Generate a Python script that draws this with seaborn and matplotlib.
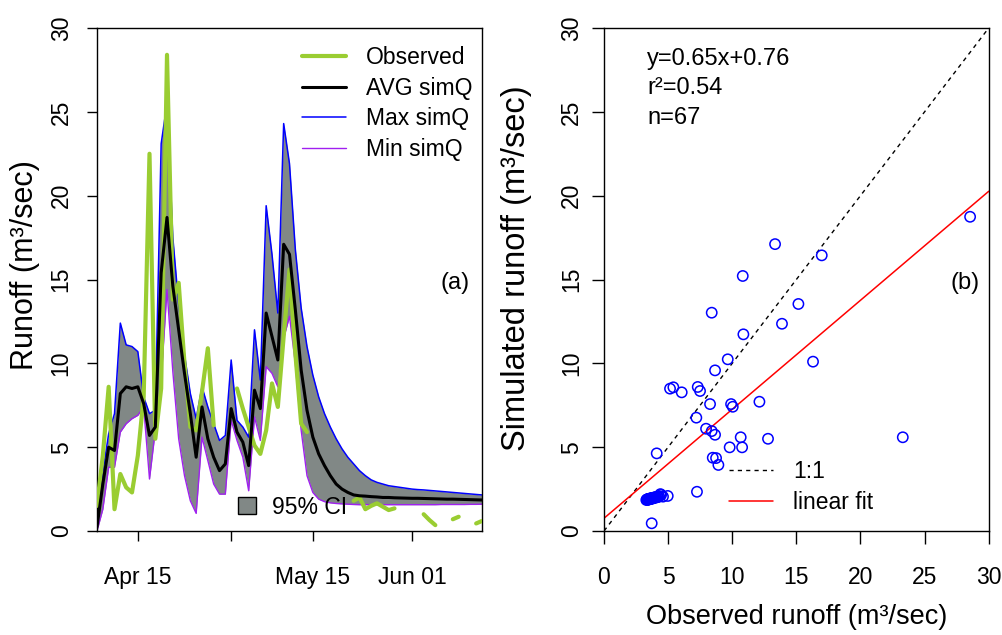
import numpy as np
import pandas as pd
import matplotlib
matplotlib.use("Agg")
import matplotlib.pyplot as plt
from matplotlib.lines import Line2D
from matplotlib.patches import Patch
import seaborn as sns

# ---------------- data ----------------
start_date = "2011-04-08"
n_days = 67

observed = [1.5, 4.5, 8.6, 1.3, 3.4, 2.6, 2.3, 4.5, 8.0, 22.5,
            5.5, 8.5, 28.4, 13.8, 14.8, 10.0, 6.2, 6.0, 8.3, 10.9,
            6.3, np.nan, np.nan, np.nan, 8.5, 7.3, 6.2, 5.1, 4.6, 6.0,
            8.8, 7.4, 11.6, 15.6, 10.6, 6.4, 5.9, np.nan, np.nan, np.nan,
            np.nan, np.nan, np.nan, np.nan, 1.8, 2.0, 1.3, 1.5, 1.65, 1.45,
            1.25, 1.35, np.nan, np.nan, np.nan, np.nan, 1.0, 0.65, 0.35, np.nan,
            np.nan, 0.7, 0.85, np.nan, np.nan, 0.45, 0.6]

avg_simq = [0.25, 2.8, 5.0, 4.8, 8.2, 8.6, 8.5, 8.6, 7.6, 5.7,
            6.2, 15.4, 18.7, 14.6, 12.0, 9.4, 7.0, 4.4, 7.4, 5.5,
            4.4, 3.6, 4.0, 7.3, 5.9, 5.3, 3.9, 8.4, 7.3, 13.0,
            11.6, 10.2, 17.1, 16.5, 13.2, 9.6, 7.2, 5.6, 4.6, 3.9,
            3.3, 2.8, 2.5, 2.3, 2.15, 2.1, 2.08, 2.05, 2.03, 2.0,
            2.0, 1.98, 1.97, 1.96, 1.95, 1.95, 1.94, 1.93, 1.92, 1.91,
            1.9, 1.9, 1.89, 1.88, 1.87, 1.86, 1.85]

max_simq = [0.45, 3.5, 5.8, 7.0, 12.4, 11.1, 11.0, 10.7, 8.0, 7.0,
            7.2, 23.1, 25.5, 17.5, 13.5, 10.5, 8.2, 6.7, 8.6, 7.4,
            6.4, 5.4, 5.7, 10.2, 6.6, 6.2, 5.6, 12.0, 9.0, 19.4,
            16.5, 13.0, 24.3, 21.9, 16.8, 13.3, 11.0, 9.3, 8.0, 7.0,
            6.2, 5.5, 4.9, 4.4, 4.0, 3.6, 3.3, 3.05, 2.9, 2.8,
            2.7, 2.65, 2.6, 2.55, 2.5, 2.47, 2.45, 2.42, 2.39, 2.36,
            2.33, 2.3, 2.27, 2.24, 2.21, 2.18, 2.15]

min_simq = [0.0, 1.3, 3.8, 3.8, 5.9, 6.4, 6.7, 6.9, 7.4, 3.1,
            6.0, 9.0, 14.4, 9.5, 5.5, 3.3, 1.8, 1.05, 5.6, 4.2,
            2.8, 2.2, 2.2, 6.6, 5.4, 4.4, 2.4, 6.8, 5.4, 9.8,
            9.4, 8.6, 11.5, 12.8, 10.0, 6.0, 3.3, 2.3, 1.9, 1.75,
            1.68, 1.64, 1.62, 1.6, 1.58, 1.57, 1.57, 1.57, 1.57, 1.57,
            1.57, 1.57, 1.57, 1.57, 1.57, 1.57, 1.57, 1.57, 1.57, 1.58,
            1.58, 1.58, 1.58, 1.58, 1.59, 1.59, 1.6]

scatter_obs = [28.55, 13.34, 16.98, 10.82, 8.4, 15.16, 13.88, 10.87, 9.65, 8.66,
               16.3, 5.15, 5.41, 6.06, 7.31, 7.49, 8.27, 9.91, 10.04, 12.12,
               7.2, 7.96, 8.4, 8.66, 10.66, 10.77, 9.8, 12.79, 23.3, 4.11,
               8.48, 8.74, 8.92, 7.25, 3.72,
               3.30, 3.35, 3.38, 3.40, 3.42, 3.45, 3.47, 3.50, 3.52, 3.55,
               3.57, 3.60, 3.62, 3.65, 3.68, 3.70, 3.73, 3.76, 3.80, 3.84,
               3.88, 3.92, 3.97, 4.02, 4.08, 4.15, 4.22, 4.30, 4.40, 4.45,
               4.60, 4.97]
scatter_sim = [18.74, 17.11, 16.44, 15.21, 13.02, 13.54, 12.36, 11.73, 10.24, 9.58,
               10.1, 8.49, 8.57, 8.27, 8.59, 8.35, 7.57, 7.57, 7.41, 7.71,
               6.76, 6.1, 5.96, 5.74, 5.59, 4.99, 4.99, 5.5, 5.59, 4.63,
               4.37, 4.35, 3.94, 2.34, 0.46,
               1.85, 1.88, 1.86, 1.90, 1.87, 1.89, 1.91, 1.88, 1.92, 1.90,
               1.93, 1.91, 1.94, 1.92, 1.95, 1.93, 1.96, 1.94, 1.97, 1.95,
               1.98, 2.00, 1.99, 2.02, 2.00, 2.04, 2.03, 2.06, 2.20, 2.15,
               2.05, 2.09]

fit_slope = 0.65
fit_intercept = 0.76
r_squared = 0.54
n_points = 67
identity_slope = 1.0

date_ticks = ["2011-04-15", "2011-05-01", "2011-05-15", "2011-06-01"]
date_tick_labels = ["Apr 15", "", "May 15", "Jun 01"]
runoff_ticks = [0, 5, 10, 15, 20, 25, 30]
obs_ticks = [0, 5, 10, 15, 20, 25, 30]

series_labels = ["Observed", "AVG simQ", "Max simQ", "Min simQ"]

# ---------------- style ----------------
sns.set_style("white")
plt.rcParams["font.family"] = ["Liberation Sans", "DejaVu Sans"]
plt.rcParams.update({
    "axes.edgecolor": "black", "axes.linewidth": 1.0,
    "text.color": "black", "axes.labelcolor": "black",
    "xtick.color": "black", "ytick.color": "black",
})

GREEN = "#9ACD32"
BLUE = "#0000FF"
PURPLE = "#A020F0"
GREY = "#818886"

W, H = 1003, 635
fig = plt.figure(figsize=(W / 100, H / 100), dpi=100)


def px_axes(x0, y0, x1, y1):
    return [x0 / W, (H - y1) / H, (x1 - x0) / W, (y1 - y0) / H]


axA = fig.add_axes(px_axes(97, 28, 482, 531))
axB = fig.add_axes(px_axes(604, 28, 988.7, 531))

dates = pd.date_range(start_date, periods=n_days, freq="D")
df = pd.DataFrame({"date": dates, "obs": observed, "avg": avg_simq,
                   "mx": max_simq, "mn": min_simq})
valid = df["obs"].notna()
df["seg"] = (valid != valid.shift()).cumsum()
df_obs = df[valid]

# ---------------- panel (a) ----------------
axA.fill_between(df["date"], df["mn"], df["mx"], color=GREY, lw=0, zorder=1)
sns.lineplot(data=df, x="date", y="mx", color=BLUE, lw=1.1, ax=axA, zorder=2)
sns.lineplot(data=df, x="date", y="mn", color=PURPLE, lw=1.0, ax=axA, zorder=2)
sns.lineplot(data=df_obs, x="date", y="obs", units="seg", estimator=None,
             color=GREEN, lw=3.0, ax=axA, zorder=3, legend=False)
sns.lineplot(data=df, x="date", y="avg", color="black", lw=2.2, ax=axA, zorder=4)

axA.set_xlim(dates[0], dates[-1])
axA.set_ylim(runoff_ticks[0], runoff_ticks[-1])
axA.set_xticks(pd.to_datetime(date_ticks))
axA.set_xticklabels(date_tick_labels)
axA.set_yticks(runoff_ticks)
axA.set_yticklabels([str(t) for t in runoff_ticks])
axA.set_xlabel("")
axA.set_ylabel("Runoff (m³/sec)", fontsize=22, va="center")
axA.yaxis.set_label_coords((25 - 97) / 385, (531 - 265) / 503)
axA.tick_params(axis="both", direction="out", length=7.5, width=1.0,
                labelsize=16.5, color="black", labelcolor="black",
                bottom=True, left=True)
axA.tick_params(axis="x", pad=18)
axA.tick_params(axis="y", labelrotation=90, pad=10)
plt.setp(axA.get_yticklabels(), va="center")
for s in axA.spines.values():
    s.set_visible(True)
    s.set_color("black")

legA = axA.legend(
    handles=[Line2D([], [], color=GREEN, lw=3.0),
             Line2D([], [], color="black", lw=2.2),
             Line2D([], [], color=BLUE, lw=1.1),
             Line2D([], [], color=PURPLE, lw=1.0)],
    labels=series_labels, loc="upper left",
    bbox_to_anchor=((302 - 97) / 385, (531 - 46) / 503),
    frameon=False, fontsize=16.5, handlelength=1.9, handletextpad=0.9,
    labelspacing=0.33, borderpad=0, borderaxespad=0)
axA.add_artist(legA)
axA.legend(handles=[Patch(facecolor=GREY, edgecolor="black", lw=1.0)],
           labels=["95% CI"], loc="center left",
           bbox_to_anchor=((238 - 97) / 385, (531 - 507) / 503),
           frameon=False, fontsize=16.5, handlelength=0.8, handleheight=0.8,
           handletextpad=0.7, borderpad=0, borderaxespad=0)
axA.text((455 - 97) / 385, (531 - 283) / 503, "(a)", transform=axA.transAxes,
         ha="center", va="center", fontsize=17)

# ---------------- panel (b) ----------------
sns.scatterplot(x=scatter_obs, y=scatter_sim, ax=axB, marker="o", s=55,
                color=BLUE, facecolor="none", edgecolor=BLUE, linewidth=1.1,
                zorder=3)
axB.axline((0, 0), slope=identity_slope, color="black", lw=1.0,
           dashes=(3, 3), zorder=2)
axB.axline((0, fit_intercept), slope=fit_slope, color="red", lw=1.1, zorder=2)

axB.set_xlim(obs_ticks[0], obs_ticks[-1])
axB.set_ylim(runoff_ticks[0], runoff_ticks[-1])
axB.set_xticks(obs_ticks)
axB.set_yticks(runoff_ticks)
axB.set_xticklabels([str(t) for t in obs_ticks])
axB.set_yticklabels([str(t) for t in runoff_ticks])
axB.set_xlabel("Observed runoff (m³/sec)", fontsize=19.5, va="center")
axB.xaxis.set_label_coords(0.5, (531 - 617) / 503)
axB.set_ylabel("Simulated runoff (m³/sec)", fontsize=23.5, va="center")
axB.yaxis.set_label_coords((517 - 604) / 384.7, (531 - 268) / 503)
axB.tick_params(axis="both", direction="out", length=9, width=1.0,
                labelsize=16.5, color="black", labelcolor="black",
                bottom=True, left=True)
axB.tick_params(axis="x", pad=16)
axB.tick_params(axis="y", labelrotation=90, pad=6)
plt.setp(axB.get_yticklabels(), va="center")
for s in axB.spines.values():
    s.set_visible(True)
    s.set_color("black")

axB.legend(handles=[Line2D([], [], color="black", lw=1.0, dashes=(3, 3)),
                    Line2D([], [], color="red", lw=1.1)],
           labels=["1:1", "linear fit"], loc="upper left",
           bbox_to_anchor=((729 - 604) / 384.7, (531 - 460) / 503),
           frameon=False, fontsize=16.5, handlelength=1.9, handletextpad=0.9,
           labelspacing=0.33, borderpad=0, borderaxespad=0)

stats_lines = [f"y={fit_slope}x+{fit_intercept}", f"r²={r_squared}",
               f"n={n_points}"]
for k, txt in enumerate(stats_lines):
    axB.text((647 - 604) / 384.7, (531 - (59 + 29.5 * k)) / 503, txt,
             transform=axB.transAxes, ha="left", va="center", fontsize=17)
axB.text((965 - 604) / 384.7, (531 - 283) / 503, "(b)", transform=axB.transAxes,
         ha="center", va="center", fontsize=17)

fig.savefig("out.png", dpi=100)
